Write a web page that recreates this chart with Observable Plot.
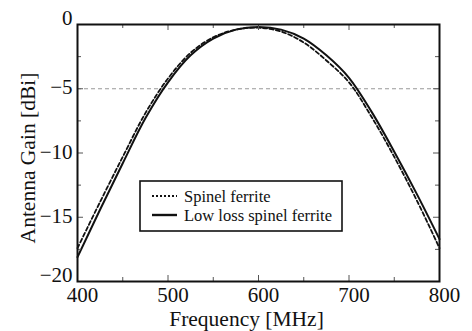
<!DOCTYPE html>
<html><head><meta charset="utf-8">
<script src="https://cdn.jsdelivr.net/npm/d3@7"></script>
<script src="https://cdn.jsdelivr.net/npm/@observablehq/plot@0.6"></script>
<style>html,body{margin:0;padding:0;background:#fff;}</style>
</head><body><div id="chart"></div>
<script>
const freq = [400,425,450,475,500,525,550,575,600,625,650,675,700,725,750,775,800];
const lowLossGain = [-18.1,-14.4,-10.8,-7.3,-4.5,-2.4,-1.1,-0.4,-0.2,-0.4,-1.1,-2.4,-4.15,-6.8,-9.9,-13.2,-16.7];
const spinelGain  = [-17.4,-13.8,-10.3,-6.9,-4.2,-2.2,-1.0,-0.4,-0.25,-0.55,-1.4,-2.8,-4.5,-7.2,-10.3,-13.7,-17.4];
const seriesNames = ["Spinel ferrite","Low loss spinel ferrite"];
const xTickLabels = [400,500,600,700,800];
const xMinorTicks = [450,550,650,750];
const yTickLabelsMid = [-5,-10,-15];
const yTickLabelsEdge = [0,-20];
const yMajorTicks = [-5,-10,-15];
const yMinorTicks = [-2.5,-7.5,-12.5,-17.5];
const refLevel = [-5];
const xLabel = "Frequency [MHz]";
const yLabel = "Antenna Gain [dBi]";

const rows = [];
freq.forEach((f,i)=>{
  rows.push({f, g: spinelGain[i], s: seriesNames[0]});
  rows.push({f, g: lowLossGain[i], s: seriesNames[1]});
});
const W = 472, H = 331, mL = 77, mR = 33, mT = 24, mB = 50;
const pw = W - mL - mR, ph = H - mT - mB;
const ink = "#111";
const serif = "Liberation Serif, Times New Roman, Times, serif";

const plot = Plot.plot({
  width: W, height: H,
  marginLeft: mL, marginRight: mR, marginTop: mT, marginBottom: mB,
  style: {fontFamily: serif, fontSize: "21px", color: ink, background: "#fff"},
  x: {domain: [400, 800]},
  y: {domain: [-20, 0]},
  marks: [
    Plot.ruleY(refLevel, {stroke: "#999", strokeWidth: 1, strokeDasharray: "4,3"}),
    Plot.line(rows.filter(d=>d.s===seriesNames[0]), {x:"f", y:"g", stroke: ink, strokeWidth: 1.8, strokeDasharray: "4,2.5", curve: "catmull-rom"}),
    Plot.line(rows.filter(d=>d.s===seriesNames[1]), {x:"f", y:"g", stroke: ink, strokeWidth: 2, curve: "catmull-rom"}),
    Plot.tickX(xTickLabels, {x: d=>d, insetTop: ph-6, stroke: "#555"}),
    Plot.tickX(xTickLabels, {x: d=>d, insetBottom: ph-6, stroke: "#555"}),
    Plot.tickX(xMinorTicks, {x: d=>d, insetTop: ph-4, stroke: "#555"}),
    Plot.tickX(xMinorTicks, {x: d=>d, insetBottom: ph-4, stroke: "#555"}),
    Plot.tickY(yMajorTicks, {y: d=>d, insetRight: pw-6, stroke: "#555"}),
    Plot.tickY(yMajorTicks, {y: d=>d, insetLeft: pw-6, stroke: "#555"}),
    Plot.tickY(yMinorTicks, {y: d=>d, insetRight: pw-4, stroke: "#555"}),
    Plot.tickY(yMinorTicks, {y: d=>d, insetLeft: pw-4, stroke: "#555"}),
    Plot.frame({stroke: ink, strokeWidth: 2}),
    Plot.axisX(xTickLabels, {tickSize: 0, tickPadding: 6, dx: 5, label: null, fill: ink}),
    Plot.axisY(yTickLabelsMid, {tickSize: 0, tickPadding: 5, dy: -1, label: null, fill: ink}),
    Plot.axisY(yTickLabelsEdge, {tickSize: 0, tickPadding: 5, dy: -6, label: null, fill: ink}),
    Plot.text([xLabel], {frameAnchor: "bottom", text: d=>d, dy: 38, dx: -12, lineAnchor: "middle", textAnchor: "middle", fontSize: 21.5, fill: ink}),
    Plot.text([yLabel], {frameAnchor: "left", text: d=>d, rotate: -90, dx: -49, dy: 5, lineAnchor: "middle", textAnchor: "middle", fontSize: 21.5, fill: ink})
  ]
});
document.getElementById("chart").appendChild(plot);

const svg = d3.select(plot);
const lg = svg.append("g");
lg.append("rect").attr("x", 140).attr("y", 181).attr("width", 202).attr("height", 50)
  .attr("fill", "#fff").attr("stroke", ink).attr("stroke-width", 1.6);
const entries = [
  {name: seriesNames[0], dash: "2,2", w: 1.8, y: 196},
  {name: seriesNames[1], dash: null, w: 2.4, y: 215}
];
entries.forEach(e=>{
  lg.append("line").attr("x1", 152).attr("x2", 177).attr("y1", e.y).attr("y2", e.y)
    .attr("stroke", ink).attr("stroke-width", e.w).attr("stroke-dasharray", e.dash);
  lg.append("text").attr("x", 184).attr("y", e.y + 5.5).text(e.name)
    .attr("text-anchor", "start")
    .attr("font-size", 16.5).attr("fill", ink)
    .attr("font-family", serif);
});
</script></body></html>
